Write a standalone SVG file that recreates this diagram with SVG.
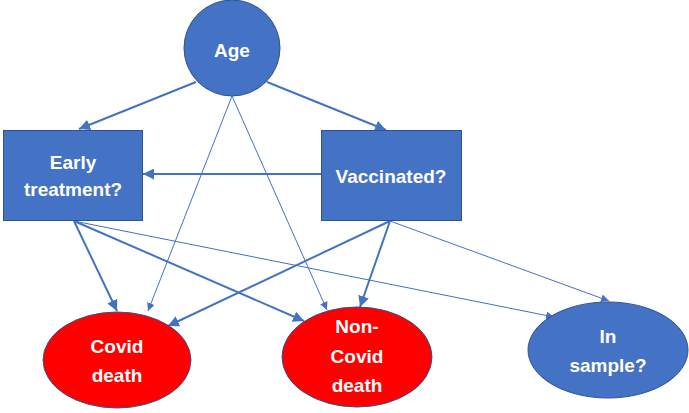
<svg xmlns="http://www.w3.org/2000/svg" width="689" height="413" viewBox="0 0 689 413">
<defs>
<style>
.node{stroke:#2F528F;stroke-width:1}
.blue{fill:#4472C4}
.red{fill:#FF0000}
.lbl{font-family:"Liberation Sans",Arial,sans-serif;font-weight:bold;font-size:19px;fill:#FFFFFF;text-anchor:middle}
.thick{stroke:#4472C4;stroke-width:2;fill:none;marker-end:url(#ah)}
.thin{stroke:#4472C4;stroke-width:1;fill:none;marker-end:url(#as)}
</style>
<marker id="ah" viewBox="0 0 10 10" refX="10" refY="5" markerWidth="11" markerHeight="11" markerUnits="userSpaceOnUse" orient="auto"><path d="M0,0 L10,5 L0,10 Z" fill="#4472C4"/></marker>
<marker id="as" viewBox="0 0 10 10" refX="10" refY="5" markerWidth="8" markerHeight="8" markerUnits="userSpaceOnUse" orient="auto"><path d="M0,0 L10,5 L0,10 Z" fill="#4472C4"/></marker>
</defs>
<rect width="689" height="413" fill="#FFFFFF"/>
<g id="connectors">
<line class="thick" x1="196" y1="82" x2="79" y2="129"/>
<line class="thick" x1="267" y1="82" x2="386" y2="130"/>
<line class="thick" x1="321" y1="174" x2="143" y2="174"/>
<line class="thin" x1="232" y1="96" x2="148" y2="311"/>
<line class="thin" x1="232" y1="96" x2="327" y2="310"/>
<line class="thick" x1="74" y1="221" x2="117" y2="311"/>
<line class="thick" x1="74" y1="221" x2="304" y2="321"/>
<line class="thin" x1="74" y1="221" x2="554" y2="317"/>
<line class="thick" x1="390" y1="221" x2="168" y2="326"/>
<line class="thick" x1="390" y1="221" x2="360" y2="307"/>
<line class="thin" x1="390" y1="221" x2="609" y2="301"/>
</g>
<g id="age">
<ellipse class="node blue" cx="232" cy="48" rx="48" ry="48"/>
<text class="lbl" x="232" y="57">Age</text>
</g>
<g id="early">
<rect class="node blue" x="3.5" y="130.5" width="139" height="90"/>
<text class="lbl" x="73" y="169">Early</text>
<text class="lbl" x="73" y="196">treatment?</text>
</g>
<g id="vaccinated">
<rect class="node blue" x="321.5" y="130.5" width="140" height="90"/>
<text class="lbl" x="391" y="183">Vaccinated?</text>
</g>
<g id="covid">
<ellipse class="node red" cx="117" cy="360" rx="74" ry="48"/>
<text class="lbl" x="117" y="353">Covid</text>
<text class="lbl" x="117" y="382">death</text>
</g>
<g id="noncovid">
<ellipse class="node red" cx="357" cy="357" rx="75" ry="50"/>
<text class="lbl" x="357" y="333">Non-</text>
<text class="lbl" x="357" y="363">Covid</text>
<text class="lbl" x="357" y="392">death</text>
</g>
<g id="insample">
<ellipse class="node blue" cx="608" cy="350" rx="80" ry="48"/>
<text class="lbl" x="608" y="343">In</text>
<text class="lbl" x="608" y="372">sample?</text>
</g>
</svg>
